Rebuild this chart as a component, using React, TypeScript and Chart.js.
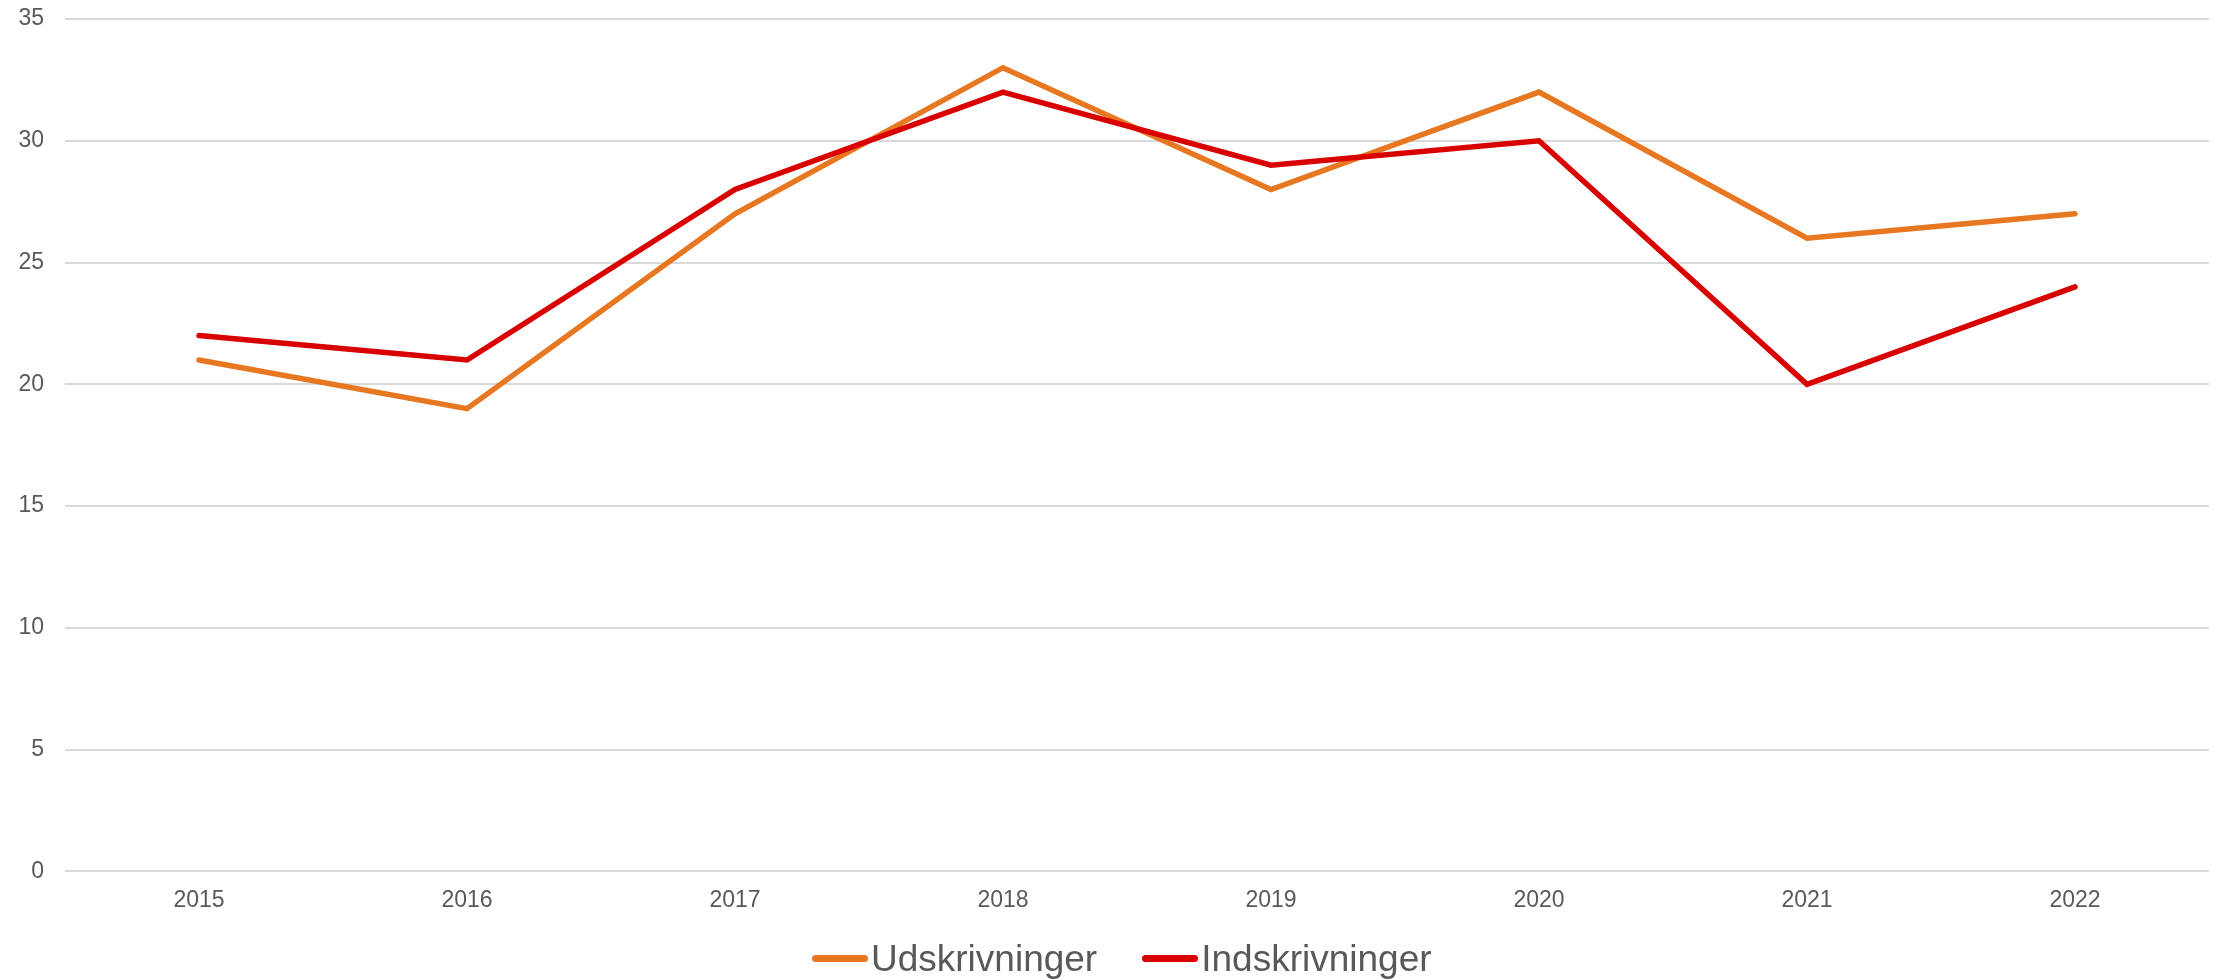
import React, { useEffect, useRef } from "react";
import { Chart, registerables } from "chart.js";

Chart.register(...registerables);

const years = ["2015", "2016", "2017", "2018", "2019", "2020", "2021", "2022"];
const udskrivninger = [21, 19, 27, 33, 28, 32, 26, 27];
const indskrivninger = [22, 21, 28, 32, 29, 30, 20, 24];
const seriesNames = ["Udskrivninger", "Indskrivninger"];
const seriesColors = ["#E87722", "#D90000"];

const FONT = "'Liberation Sans', Arial, sans-serif";
const TEXT = "#595959";

export default function App() {
  const ref = useRef<HTMLCanvasElement | null>(null);

  useEffect(() => {
    if (!ref.current) return;
    const chart = new Chart(ref.current, {
      type: "line",
      data: {
        labels: years,
        datasets: [
          {
            label: seriesNames[0],
            data: udskrivninger,
            borderColor: seriesColors[0],
            backgroundColor: seriesColors[0],
            borderWidth: 5.5,
            borderCapStyle: "round",
            borderJoinStyle: "miter",
            pointRadius: 0,
            tension: 0,
            order: 1,
          },
          {
            label: seriesNames[1],
            data: indskrivninger,
            borderColor: seriesColors[1],
            backgroundColor: seriesColors[1],
            borderWidth: 5.5,
            borderCapStyle: "round",
            borderJoinStyle: "miter",
            pointRadius: 0,
            tension: 0,
            order: 0,
          },
        ],
      },
      options: {
        animation: false,
        responsive: true,
        maintainAspectRatio: false,
        layout: { padding: { left: 18, right: 10, top: 19, bottom: 51 } },
        plugins: { legend: { display: false }, tooltip: { enabled: false } },
        scales: {
          x: {
            offset: true,
            grid: { display: false, drawTicks: false },
            border: { display: false },
            ticks: {
              color: TEXT,
              font: { family: FONT, size: 23 },
              padding: 15,
              maxRotation: 0,
            },
          },
          y: {
            min: 0,
            max: 35,
            grid: { color: "#D9D9D9", lineWidth: 2, drawTicks: false },
            border: { display: false },
            afterFit: (s: any) => {
              s.width = 47;
              s.paddingTop = 0;
              s.paddingBottom = 0;
            },
            ticks: {
              stepSize: 5,
              color: TEXT,
              font: { family: FONT, size: 23 },
              padding: 21,
            },
          },
        },
      },
    });
    return () => chart.destroy();
  }, []);

  return (
    <div style={{ position: "fixed", left: 0, top: 0, width: 2219, height: 980, background: "#fff" }}>
      <canvas ref={ref} style={{ display: "block" }} />
      <div
        style={{
          position: "absolute",
          left: 812,
          top: 940,
          height: 37,
          display: "flex",
          alignItems: "center",
          fontFamily: FONT,
          fontSize: 37,
          lineHeight: "37px",
          color: TEXT,
          whiteSpace: "nowrap",
        }}
      >
        {seriesNames.map((name, i) => (
          <div key={name} style={{ display: "flex", alignItems: "center", marginRight: i === 0 ? 45 : 0 }}>
            <span
              style={{
                display: "inline-block",
                width: 56,
                height: 7,
                borderRadius: 4,
                background: seriesColors[i],
                marginRight: 3,
              }}
            />
            <span>{name}</span>
          </div>
        ))}
      </div>
    </div>
  );
}
